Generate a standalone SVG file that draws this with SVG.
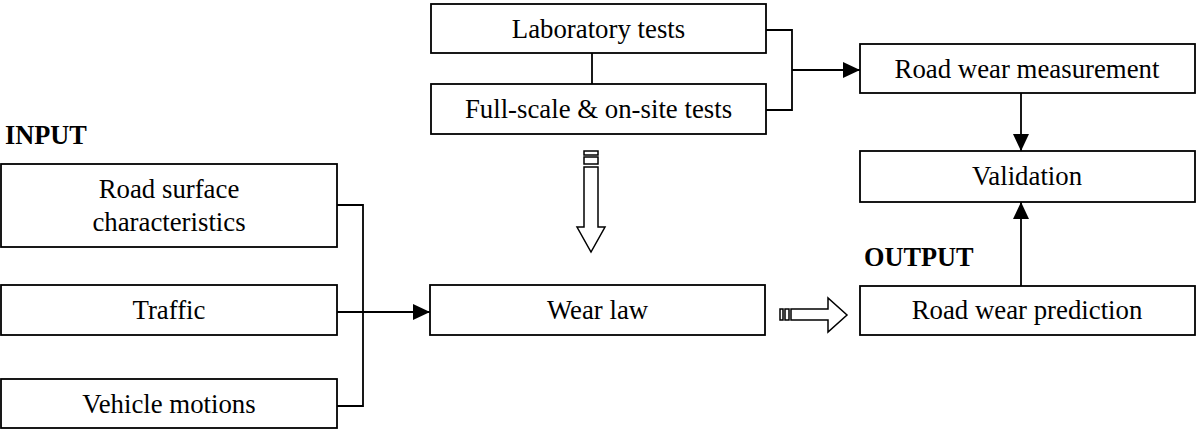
<svg xmlns="http://www.w3.org/2000/svg" width="1197" height="430" viewBox="0 0 1197 430">
<style>
.box{fill:#fff;stroke:#000;stroke-width:1.8}
.t{font-family:"Liberation Serif","Times New Roman",serif;font-size:26.8px;text-anchor:middle;fill:#000}
.h{font-family:"Liberation Serif","Times New Roman",serif;font-size:26.3px;font-weight:bold;fill:#000}
.ln{fill:none;stroke:#000;stroke-width:1.8}
.blk{fill:#fff;stroke:#000;stroke-width:1.5}
</style>
<defs>
<marker id="ah" markerWidth="17" markerHeight="16" refX="17" refY="8" orient="auto" markerUnits="userSpaceOnUse">
<path d="M0,0 L17,8 L0,16 Z" fill="#000"/>
</marker>
</defs>
<rect width="1197" height="430" fill="#fff"/>
<text class="h" x="5" y="144">INPUT</text>
<text class="h" x="864" y="266">OUTPUT</text>
<g id="lab"><rect class="box" x="431" y="4" width="335" height="49"/><text class="t" x="598.5" y="38">Laboratory tests</text></g>
<g id="full"><rect class="box" x="431" y="84" width="335" height="50"/><text class="t" x="598.5" y="118">Full-scale &amp; on-site tests</text></g>
<g id="meas"><rect class="box" x="860" y="44" width="335" height="49"/><text class="t" x="1027" y="78">Road wear measurement</text></g>
<g id="valid"><rect class="box" x="860" y="151" width="335" height="51"/><text class="t" x="1027" y="185">Validation</text></g>
<g id="pred"><rect class="box" x="860" y="286" width="335" height="49"/><text class="t" x="1027" y="319">Road wear prediction</text></g>
<g id="road"><rect class="box" x="1" y="164" width="336" height="83"/><text class="t" x="169" y="198">Road surface</text><text class="t" x="169" y="231">characteristics</text></g>
<g id="traffic"><rect class="box" x="1" y="285" width="336" height="50"/><text class="t" x="169" y="319">Traffic</text></g>
<g id="vehicle"><rect class="box" x="1" y="379" width="336" height="49"/><text class="t" x="169" y="413">Vehicle motions</text></g>
<g id="wear"><rect class="box" x="430" y="285" width="335" height="50"/><text class="t" x="597.5" y="319">Wear law</text></g>
<g id="connectors">
<line class="ln" x1="592" y1="53" x2="592" y2="84"/>
<polyline class="ln" points="766,30 792,30 792,110 766,110"/>
<line class="ln" x1="792" y1="70" x2="860" y2="70" marker-end="url(#ah)"/>
<line class="ln" x1="1021" y1="93" x2="1021" y2="151" marker-end="url(#ah)"/>
<line class="ln" x1="1021" y1="286" x2="1021" y2="202" marker-end="url(#ah)"/>
<polyline class="ln" points="337,205 363,205 363,406 337,406"/>
<line class="ln" x1="337" y1="312" x2="430" y2="312" marker-end="url(#ah)"/>
<g id="down-arrow">
<rect class="blk" x="584" y="151" width="14" height="4"/>
<rect class="blk" x="584" y="157" width="14" height="7"/>
<path class="blk" d="M584,167 L598,167 L598,227 L605,227 L591,252 L577,227 L584,227 Z"/>
</g>
<g id="right-arrow">
<rect class="blk" x="780" y="309" width="3" height="11"/>
<rect class="blk" x="785" y="309" width="4" height="11"/>
<path class="blk" d="M791,309 L828,309 L828,298 L847,315 L828,332 L828,320 L791,320 Z"/>
</g>
</g>
</svg>
